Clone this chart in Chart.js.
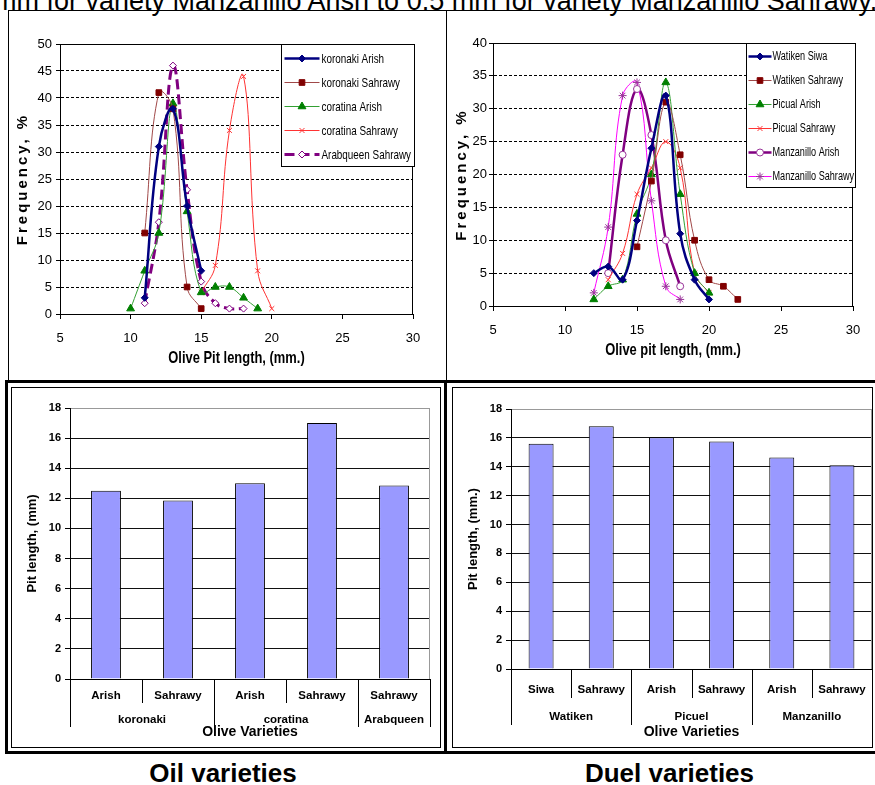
<!DOCTYPE html>
<html><head><meta charset="utf-8">
<script src="https://cdn.jsdelivr.net/npm/chart.js@4/dist/chart.umd.min.js"></script>
<style>
html,body{margin:0;padding:0;background:#fff;width:875px;height:785px;overflow:hidden;position:relative;font-family:"Liberation Sans",Arial,sans-serif;}
.abs{position:absolute;box-sizing:border-box;}
canvas{position:absolute;}
</style></head><body>
<div class="abs" style="left:-6px;top:-12px;font-size:27px;line-height:27px;white-space:nowrap;color:#000;">mm for variety Manzanillo Arish to 0.5 mm for variety Manzanillo Sahrawy.</div>

<canvas id="c1" width="436" height="368" style="left:9px;top:11px;"></canvas>
<canvas id="c2" width="427" height="368" style="left:448px;top:11px;"></canvas>
<canvas id="c3" width="428" height="359" style="left:12px;top:388px;"></canvas>
<canvas id="c4" width="420" height="359" style="left:453px;top:388px;"></canvas>

<div class="abs" style="left:8px;top:10px;width:880px;height:371px;border-left:1px solid #000;border-top:1px solid #000;"></div>
<div class="abs" style="left:446px;top:10px;width:1px;height:371px;background:#000;"></div>
<div class="abs" style="left:5px;top:380px;width:880px;height:374px;border:3px solid #000;"></div>
<div class="abs" style="left:444px;top:380px;width:3px;height:374px;background:#000;"></div>
<div class="abs" style="left:11px;top:387px;width:430px;height:361px;border:1px solid #000;"></div>
<div class="abs" style="left:452px;top:387px;width:421px;height:361px;border:1px solid #000;"></div>

<div class="abs" style="left:0px;top:758px;width:446px;text-align:center;font-weight:bold;font-size:26px;line-height:30px;">Oil varieties</div>
<div class="abs" style="left:455px;top:758px;width:429px;text-align:center;font-weight:bold;font-size:26px;line-height:30px;">Duel varieties</div>

<script>
// ---------- DATA: Oil varieties frequency ----------
const oilSeriesNames = ['koronaki Arish','koronaki Sahrawy','coratina Arish','coratina Sahrawy','Arabqueen Sahrawy'];
const korArishX = [11,12,13,14,15];
const korArishY = [3,31,38,20,8];
const korSahX = [11,12,13,14,15];
const korSahY = [15,41,38,5,1];
const corArishX = [10,11,12,13,14,15,16,17,18,19];
const corArishY = [1,8,15,39,19,4,5,5,3,1];
const corSahX = [15,16,17,18,19,20];
const corSahY = [4,9,34,44,8,1];
const arabSahX = [11,12,13,14,15,16,17,18];
const arabSahY = [2,17,46,23,6,2,1,1];

// ---------- DATA: Duel varieties frequency ----------
const duelSeriesNames = ['Watiken Siwa','Watiken Sahrawy','Picual Arish','Picual Sahrawy','Manzanillo Arish','Manzanillo Sahrawy'];
const watSiwaX = [12,13,14,15,16,17,18,19,20];
const watSiwaY = [5,6,4,13,24,32,11,4,1];
const watSahX = [15,16,17,18,19,20,21,22];
const watSahY = [9,19,31,23,10,4,3,1];
const picArishX = [12,13,14,15,16,17,18,19,20];
const picArishY = [1,3,4,14,20,34,17,5,2];
const picSahX = [13,14,15,16,17,18,19,20];
const picSahY = [4,8,17,21,25,21,5,2];
const manArishX = [13,14,15,16,17,18];
const manArishY = [5,23,33,26,10,3];
const manSahX = [12,13,14,15,16,17,18];
const manSahY = [2,12,32,34,16,3,1];

// ---------- DATA: mean pit length bars ----------
const oilLabels = ['Arish','Sahrawy','Arish','Sahrawy','Sahrawy'];
const oilGroups = ['koronaki','coratina','Arabqueen'];
const oilGroupSizes = [2,2,1];
const oilValues = [12.5,11.85,13.0,17.0,12.85];
const duelLabels = ['Siwa','Sahrawy','Arish','Sahrawy','Arish','Sahrawy'];
const duelGroups = ['Watiken','Picuel','Manzanillo'];
const duelGroupSizes = [2,2,2];
const duelValues = [15.6,16.8,16.05,15.75,14.65,14.1];

// tick settings
const freqXMin = 5, freqXMax = 30, freqXStep = 5;
const oilFreqMax = 50, duelFreqMax = 40, freqStep = 5;
const barMax = 18, barStep = 2;

const ARIAL = '"Liberation Sans",Arial,sans-serif';

const pts = (xs, ys) => xs.map((x, i) => ({x: x, y: ys[i]}));

function lineDs(label, data, st) {
  return Object.assign({
    label: label, data: data, showLine: true, tension: 0.4, fill: false,
    pointRadius: 3.5, pointBorderWidth: 1
  }, st);
}

// ---------- plugins ----------
const framePlugin = {
  id: 'frame',
  beforeDatasetsDraw(chart, args, o) {
    if (!o || !o.color) return;
    const {ctx, chartArea: a} = chart;
    ctx.save();
    ctx.strokeStyle = o.color; ctx.lineWidth = 1;
    ctx.beginPath();
    if (o.top) { ctx.moveTo(a.left, Math.round(a.top) + 0.5); ctx.lineTo(a.right, Math.round(a.top) + 0.5); }
    ctx.moveTo(Math.round(a.right) - 0.5, a.top); ctx.lineTo(Math.round(a.right) - 0.5, a.bottom);
    ctx.stroke();
    ctx.restore();
  }
};

function narrowText(ctx, text, x, y, font, sx, align) {
  ctx.save();
  ctx.font = font; ctx.fillStyle = '#000'; ctx.textBaseline = 'middle'; ctx.textAlign = align || 'left';
  ctx.translate(x, y); ctx.scale(sx, 1);
  ctx.fillText(text, 0, 0);
  ctx.restore();
}

const boxLegendPlugin = {
  id: 'boxLegend',
  afterDraw(chart, args, o) {
    if (!o || !o.w) return;
    const {ctx, chartArea: a} = chart;
    const bx = Math.round(a.right + o.right - o.w) + 0.5, by = Math.round(a.top + o.top) + 0.5;
    ctx.save();
    ctx.fillStyle = '#fff'; ctx.fillRect(bx, by, o.w, o.h);
    ctx.strokeStyle = '#000'; ctx.lineWidth = 1; ctx.strokeRect(bx, by, o.w, o.h);
    chart.data.datasets.forEach((ds, i) => {
      const y = by + o.row0 + i * o.step;
      ctx.save();
      ctx.strokeStyle = ds.borderColor; ctx.lineWidth = ds.borderWidth;
      ctx.setLineDash(ds.borderDash || []);
      ctx.beginPath(); ctx.moveTo(bx + o.lx0, y); ctx.lineTo(bx + o.lx1, y); ctx.stroke();
      ctx.restore();
      ctx.save();
      ctx.fillStyle = ds.pointBackgroundColor; ctx.strokeStyle = ds.pointBorderColor;
      ctx.lineWidth = ds.pointBorderWidth || 1;
      Chart.helpers.drawPoint(ctx, {pointStyle: ds.pointStyle, rotation: 0, radius: ds.pointRadius, borderWidth: ds.pointBorderWidth || 1}, bx + (o.lx0 + o.lx1) / 2, y);
      ctx.restore();
      narrowText(ctx, ds.label, bx + o.tx, y + 0.5, o.font, o.sx, 'left');
    });
    ctx.restore();
  }
};

const axisTitlesPlugin = {
  id: 'axisTitles',
  afterDraw(chart, args, o) {
    if (!o || !o.yText) return;
    const {ctx, chartArea: a} = chart;
    // y title, letter-spaced
    ctx.save();
    ctx.translate(a.left + o.ydx, (a.top + a.bottom) / 2);
    ctx.rotate(-Math.PI / 2);
    ctx.font = o.yFont; ctx.fillStyle = '#000';
    ctx.letterSpacing = o.spacing;
    ctx.textAlign = 'center'; ctx.textBaseline = 'middle';
    ctx.fillText(o.yText, 0, 0);
    ctx.restore();
    // x title, condensed
    narrowText(ctx, o.xText, (a.left + a.right) / 2, a.bottom + o.xdy, o.xFont, o.xsx, 'center');
  }
};

const groupAxisPlugin = {
  id: 'groupAxis',
  afterDraw(chart, args, o) {
    if (!o || !o.labels) return;
    const {ctx, chartArea: a} = chart;
    const xs = chart.scales.x;
    const n = o.labels.length;
    const half = (xs.getPixelForValue(1) - xs.getPixelForValue(0)) / 2;
    const bset = new Set([0]); let acc = 0;
    o.groupSizes.forEach(s => { acc += s; bset.add(acc); });
    const bottom = Math.round(a.bottom);
    ctx.save();
    ctx.strokeStyle = '#000'; ctx.lineWidth = 1;
    for (let i = 0; i <= n; i++) {
      const x = Math.round(xs.getPixelForValue(0) - half + i * 2 * half) + 0.5;
      const len = bset.has(i) ? o.groupDy : o.innerDy;
      ctx.beginPath(); ctx.moveTo(x, bottom); ctx.lineTo(x, bottom + len); ctx.stroke();
    }
    ctx.fillStyle = '#000'; ctx.font = o.font; ctx.textAlign = 'center'; ctx.textBaseline = 'middle';
    o.labels.forEach((l, i) => ctx.fillText(l, xs.getPixelForValue(i), bottom + o.labelDy));
    let start = 0;
    o.groups.forEach((g, gi) => {
      const end = start + o.groupSizes[gi] - 1;
      const cx = (xs.getPixelForValue(start) + xs.getPixelForValue(end)) / 2;
      ctx.fillText(g, cx, bottom + o.groupLabelDy);
      start = end + 1;
    });
    ctx.restore();
  }
};

Chart.register(framePlugin, boxLegendPlugin, axisTitlesPlugin, groupAxisPlugin);
Chart.defaults.font.family = ARIAL;
Chart.defaults.color = '#000';

function freqOptions(yMax, pad, yW, xH, xTitle, legendOpt, titleDx, yPad) {
  return {
    responsive: false, animation: false, devicePixelRatio: 1,
    layout: {padding: pad},
    plugins: {
      legend: {display: false}, tooltip: {enabled: false},
      boxLegend: legendOpt,
      frame: {color: '#000', top: true},
      axisTitles: {yText: 'Frequency, %', ydx: titleDx, yFont: 'bold 15px ' + ARIAL, spacing: '3px',
                   xText: xTitle, xdy: 44, xFont: 'bold 17px ' + ARIAL, xsx: 0.76}
    },
    scales: {
      x: {
        type: 'linear', min: freqXMin, max: freqXMax,
        ticks: {stepSize: freqXStep, color: '#000', font: {family: ARIAL, size: 13}, padding: 12},
        grid: {drawOnChartArea: false, tickLength: 5, tickColor: '#000', color: '#000'},
        border: {color: '#000', width: 1},
        afterFit: s => { s.height = xH; }
      },
      y: {
        min: 0, max: yMax,
        ticks: {stepSize: freqStep, color: '#000', font: {family: ARIAL, size: 13}, padding: yPad},
        grid: {color: c => (c.tick && c.tick.value > 0 && c.tick.value < yMax) ? '#000' : 'rgba(0,0,0,0)', tickColor: '#000', tickLength: 4, lineWidth: 1},
        border: {color: '#000', width: 1, dash: [3, 2]},
        afterFit: s => { s.width = yW; }
      }
    }
  };
}

// ---------- Chart 1: oil varieties frequency ----------
new Chart(document.getElementById('c1'), {
  type: 'scatter',
  data: {datasets: [
    lineDs(oilSeriesNames[0], pts(korArishX, korArishY), {borderColor: '#000080', borderWidth: 2.5, pointStyle: 'rectRot', pointRadius: 3.5, pointBackgroundColor: '#000080', pointBorderColor: '#000080'}),
    lineDs(oilSeriesNames[1], pts(korSahX, korSahY), {borderColor: '#A04848', borderWidth: 1, pointStyle: 'rect', pointRadius: 4, pointBackgroundColor: '#800000', pointBorderColor: '#800000'}),
    lineDs(oilSeriesNames[2], pts(corArishX, corArishY), {borderColor: '#33A033', borderWidth: 1, pointStyle: 'triangle', pointRadius: 4.5, pointBackgroundColor: '#008000', pointBorderColor: '#008000'}),
    lineDs(oilSeriesNames[3], pts(corSahX, corSahY), {borderColor: '#FF3333', borderWidth: 1, pointStyle: 'crossRot', pointRadius: 3.5, pointBackgroundColor: '#FF3333', pointBorderColor: '#FF3333'}),
    lineDs(oilSeriesNames[4], pts(arabSahX, arabSahY), {borderColor: '#800080', borderWidth: 3, borderDash: [10, 5], pointStyle: 'rectRot', pointRadius: 3.5, pointBackgroundColor: '#FFFFFF', pointBorderColor: '#800080'})
  ]},
  options: freqOptions(oilFreqMax, {left: 0, right: 32, top: 33, bottom: 0}, 51, 65, 'Olive Pit length, (mm.)',
    {right: 1, top: 0, w: 133, h: 122, row0: 14, step: 24, lx0: 3, lx1: 38, tx: 40, font: '13px ' + ARIAL, sx: 0.76}, -37, 4)
});

// ---------- Chart 2: duel varieties frequency ----------
new Chart(document.getElementById('c2'), {
  type: 'scatter',
  data: {datasets: [
    lineDs(duelSeriesNames[0], pts(watSiwaX, watSiwaY), {borderColor: '#000080', borderWidth: 2.5, pointStyle: 'rectRot', pointRadius: 3.5, pointBackgroundColor: '#000080', pointBorderColor: '#000080'}),
    lineDs(duelSeriesNames[1], pts(watSahX, watSahY), {borderColor: '#A04848', borderWidth: 1, pointStyle: 'rect', pointRadius: 4, pointBackgroundColor: '#800000', pointBorderColor: '#800000'}),
    lineDs(duelSeriesNames[2], pts(picArishX, picArishY), {borderColor: '#33A033', borderWidth: 1, pointStyle: 'triangle', pointRadius: 4.5, pointBackgroundColor: '#008000', pointBorderColor: '#008000'}),
    lineDs(duelSeriesNames[3], pts(picSahX, picSahY), {borderColor: '#FF3333', borderWidth: 1, pointStyle: 'crossRot', pointRadius: 3.5, pointBackgroundColor: '#FF3333', pointBorderColor: '#FF3333'}),
    lineDs(duelSeriesNames[4], pts(manArishX, manArishY), {borderColor: '#800080', borderWidth: 2.5, pointStyle: 'circle', pointRadius: 3.5, pointBackgroundColor: '#FFFFFF', pointBorderColor: '#993399'}),
    lineDs(duelSeriesNames[5], pts(manSahX, manSahY), {borderColor: '#FF00FF', borderWidth: 1, pointStyle: 'star', pointRadius: 4, pointBackgroundColor: '#993399', pointBorderColor: '#993399'})
  ]},
  options: freqOptions(duelFreqMax, {left: 0, right: 22, top: 32, bottom: 0}, 45, 73, 'Olive pit length, (mm.)',
    {right: 2, top: 0, w: 109, h: 144, row0: 13, step: 24, lx0: 2, lx1: 25, tx: 26, font: '12px ' + ARIAL, sx: 0.76}, -31, 2)
});

function barOptions(pad, xH, yTitle, labels, groups, groupSizes, dy) {
  return {
    responsive: false, animation: false, devicePixelRatio: 1,
    layout: {padding: pad},
    plugins: {
      legend: {display: false}, tooltip: {enabled: false},
      frame: {color: '#999', top: false},
      groupAxis: Object.assign({labels: labels, groups: groups, groupSizes: groupSizes, font: 'bold 11.5px ' + ARIAL}, dy)
    },
    scales: {
      x: {
        ticks: {display: false},
        grid: {display: false},
        border: {color: '#000', width: 1},
        title: {display: true, text: 'Olive Varieties', color: '#000', font: {family: ARIAL, size: 14, weight: 'bold'}, padding: {top: 0, bottom: 6}},
        afterFit: s => { s.height = xH; }
      },
      y: {
        min: 0, max: barMax,
        ticks: {stepSize: barStep, color: '#000', font: {family: ARIAL, size: 11, weight: 'bold'}, padding: 4},
        grid: {color: c => (c.tick && c.tick.value === barMax) ? '#999' : '#111', tickColor: '#000', tickLength: 5, lineWidth: 1},
        border: {color: '#000', width: 1},
        title: {display: true, text: yTitle, color: '#000', font: {family: ARIAL, size: 13, weight: 'bold'}, padding: {top: 13, bottom: 0}},
        afterFit: s => { s.width = 58; }
      }
    }
  };
}

// ---------- Chart 3: oil varieties bar ----------
new Chart(document.getElementById('c3'), {
  type: 'bar',
  data: {labels: oilLabels, datasets: [{data: oilValues, backgroundColor: '#9999FF', borderColor: '#000', borderWidth: 1, categoryPercentage: 0.415, barPercentage: 1}]},
  options: barOptions({left: 0, right: 10, top: 20, bottom: 0}, 68, 'Pit length, (mm)', oilLabels, oilGroups, oilGroupSizes,
    {labelDy: 17, innerDy: 24, groupDy: 48, groupLabelDy: 41})
});

// ---------- Chart 4: duel varieties bar ----------
new Chart(document.getElementById('c4'), {
  type: 'bar',
  data: {labels: duelLabels, datasets: [{data: duelValues, backgroundColor: '#9999FF', borderColor: '#000', borderWidth: 1, categoryPercentage: 0.415, barPercentage: 1}]},
  options: barOptions({left: 0, right: 1, top: 21, bottom: 0}, 78, 'Pit length, (mm.)', duelLabels, duelGroups, duelGroupSizes,
    {labelDy: 21, innerDy: 29, groupDy: 56, groupLabelDy: 48})
});
</script>
</body></html>
